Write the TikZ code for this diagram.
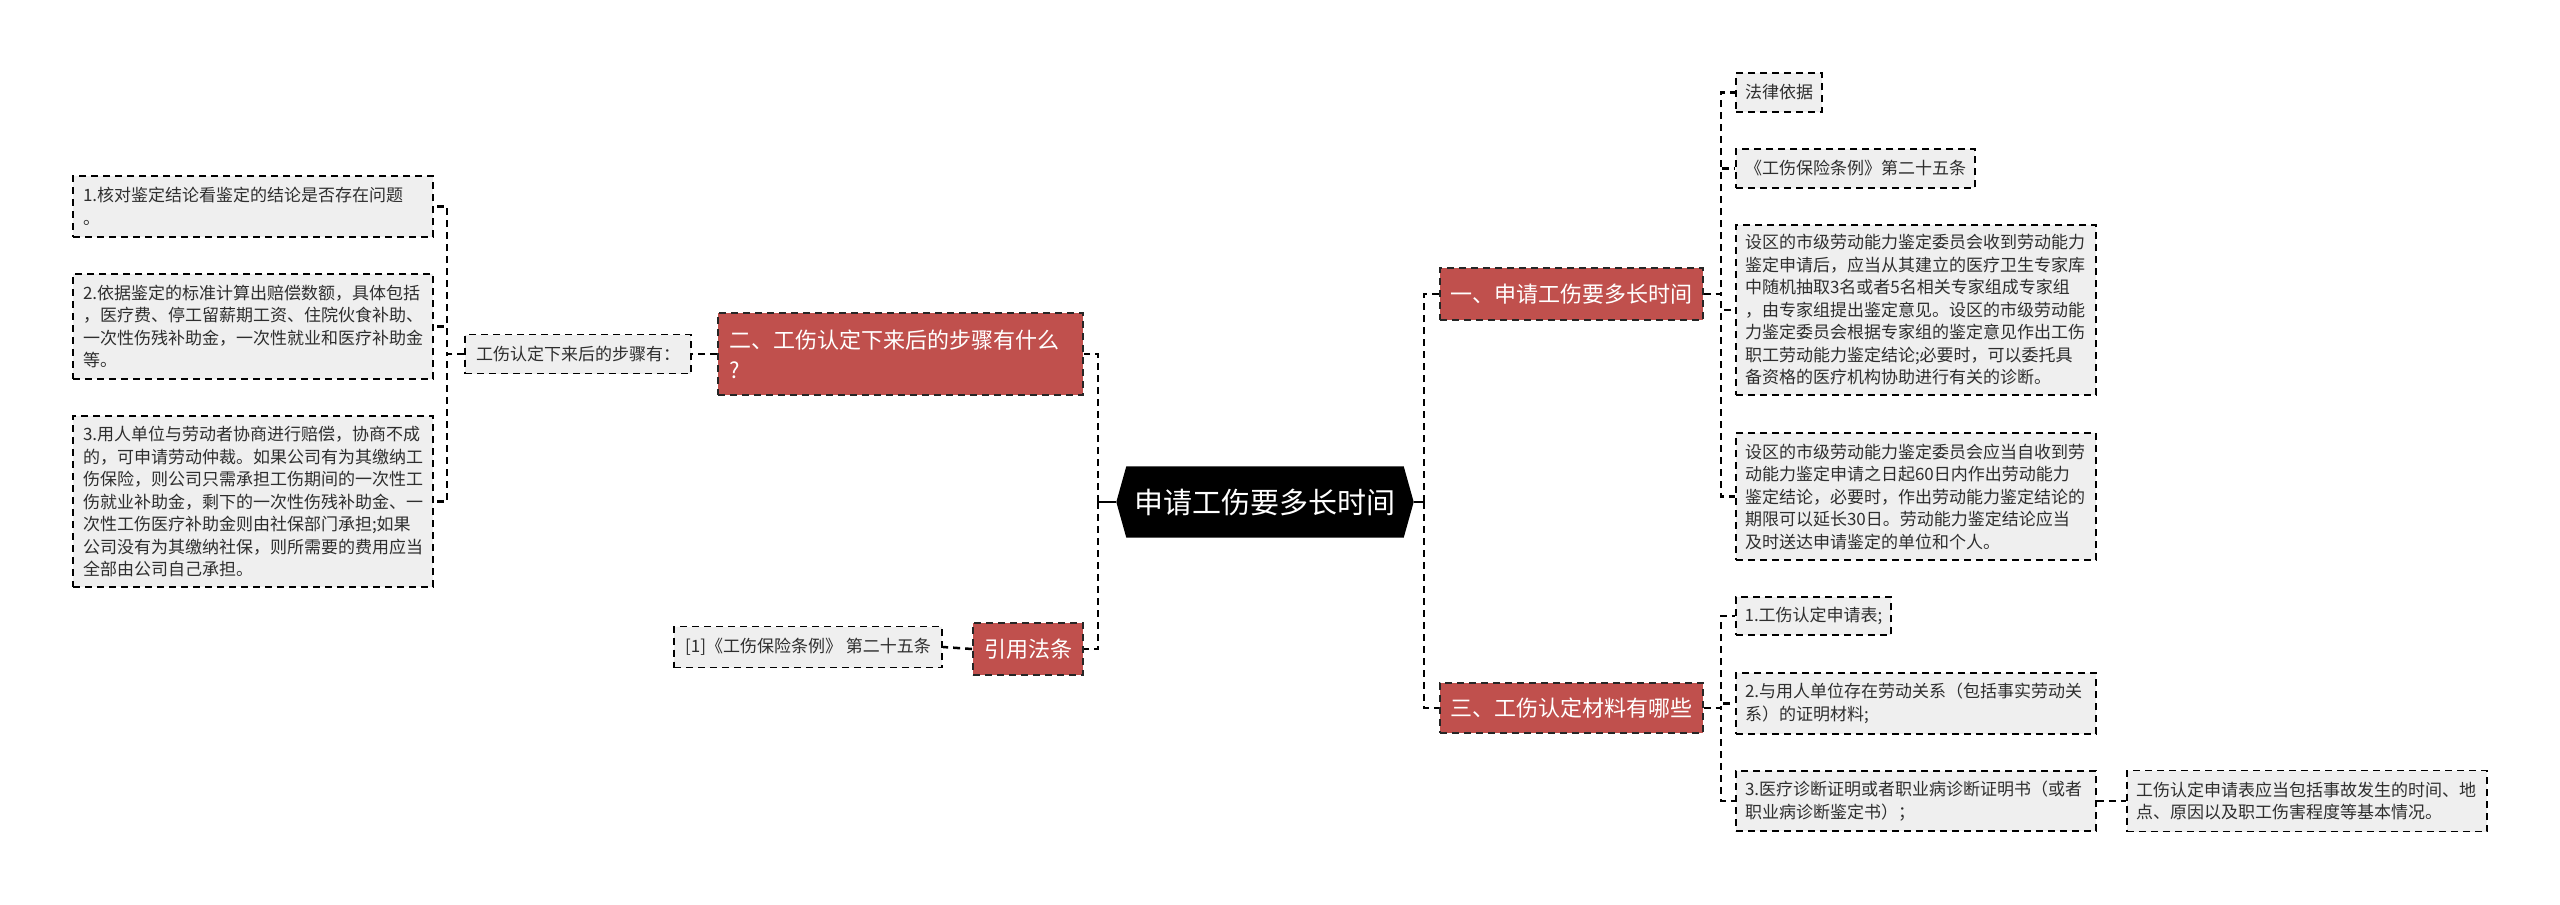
\documentclass[tikz,border=0pt]{standalone}
\usepackage{fontspec}
\newfontfamily\cjk{Noto Sans CJK SC}
\usetikzlibrary{calc}
\pgfdeclarelayer{background}
\pgfsetlayers{background,main}
\definecolor{redbox}{HTML}{C0504D}
\definecolor{graybox}{HTML}{EFEFEF}
\definecolor{txt}{HTML}{2E2E2E}
\begin{document}
\begin{tikzpicture}[x=1pt,y=-1pt,
  leaf/.style={draw=black, line width=1.8pt, dash pattern=on 7pt off 5pt, fill=graybox, text=txt,
    font=\cjk\fontsize{17}{22.5}\selectfont, align=left, inner sep=0pt},
  wide/.style={text width=342pt, minimum width=360pt},
  topic/.style={draw=black!85, line width=1.8pt, dash pattern=on 7pt off 5pt, fill=redbox, text=white,
    font=\cjk\fontsize{22}{30}\selectfont, align=left, inner sep=0pt},
  conn/.style={draw=black, line width=2.5pt, dash pattern=on 7pt off 5pt},
  stub/.style={draw=black, line width=2.5pt}
]
\useasboundingbox (0,0) rectangle (2560,905);

% root
\node[minimum width=297pt, minimum height=71pt, inner sep=0pt, text=white,
  font=\cjk\fontsize{29}{34}\selectfont] (root) at (1265,502) {申请工伤要多长时间};
\begin{pgfonlayer}{background}
\fill[black] (root.west) -- ($(root.north west)+(10,0)$) -- ($(root.north east)+(-10,0)$)
  -- (root.east) -- ($(root.south east)+(-10,0)$) -- ($(root.south west)+(10,0)$) -- cycle;
\end{pgfonlayer}

% topics
\node[topic, minimum width=263pt, minimum height=52pt] (T1) at (1571.5,294) {一、申请工伤要多长时间};
\node[topic, text width=343pt, minimum width=365pt, minimum height=82pt] (T2) at (900.5,354) {二、工伤认定下来后的步骤有什么\\?};
\node[topic, minimum width=263pt, minimum height=50pt] (T3) at (1571.5,708) {三、工伤认定材料有哪些};
\node[topic, minimum width=110pt, minimum height=52pt] (T4) at (1028,649) {引用法条};

% left leaves
\node[leaf, minimum width=226pt, minimum height=39pt] (S) at (578,354) {工伤认定下来后的步骤有：};
\node[leaf, wide, text width=340pt, minimum height=61pt] (L1) at (253,206.5) {1.核对鉴定结论看鉴定的结论是否存在问题\\。};
\node[leaf, wide, text width=340pt, minimum height=105pt] (L2) at (253,326.5) {2.依据鉴定的标准计算出赔偿数额，具体包括\\，医疗费、停工留薪期工资、住院伙食补助、\\一次性伤残补助金，一次性就业和医疗补助金\\等。};
\node[leaf, wide, text width=340pt, minimum height=171pt] (L3) at (253,501.5) {3.用人单位与劳动者协商进行赔偿，协商不成\\的，可申请劳动仲裁。如果公司有为其缴纳工\\伤保险，则公司只需承担工伤期间的一次性工\\伤就业补助金，剩下的一次性伤残补助金、一\\次性工伤医疗补助金则由社保部门承担;如果\\公司没有为其缴纳社保，则所需要的费用应当\\全部由公司自己承担。};
\node[leaf, minimum width=268pt, minimum height=41pt] (F1) at (808,647) {[1]《工伤保险条例》 第二十五条};

% right leaves
\node[leaf, minimum width=86pt, minimum height=39pt] (R1) at (1779,92.5) {法律依据};
\node[leaf, minimum width=239pt, minimum height=39pt] (R2) at (1855.5,168.5) {《工伤保险条例》第二十五条};
\node[leaf, wide, minimum height=170pt] (R3) at (1916,310) {设区的市级劳动能力鉴定委员会收到劳动能力\\鉴定申请后，应当从其建立的医疗卫生专家库\\中随机抽取3名或者5名相关专家组成专家组\\，由专家组提出鉴定意见。设区的市级劳动能\\力鉴定委员会根据专家组的鉴定意见作出工伤\\职工劳动能力鉴定结论;必要时，可以委托具\\备资格的医疗机构协助进行有关的诊断。};
\node[leaf, wide, minimum height=127pt] (R4) at (1916,496.5) {设区的市级劳动能力鉴定委员会应当自收到劳\\动能力鉴定申请之日起60日内作出劳动能力\\鉴定结论，必要时，作出劳动能力鉴定结论的\\期限可以延长30日。劳动能力鉴定结论应当\\及时送达申请鉴定的单位和个人。};
\node[leaf, minimum width=155pt, minimum height=38pt] (R5) at (1813.5,616) {1.工伤认定申请表;};
\node[leaf, wide, minimum height=61pt] (R6) at (1916,703.5) {2.与用人单位存在劳动关系（包括事实劳动关\\系）的证明材料;};
\node[leaf, wide, minimum height=60pt] (R7) at (1916,801) {3.医疗诊断证明或者职业病诊断证明书（或者\\职业病诊断鉴定书）；};
\node[leaf, wide, minimum height=61pt] (R8) at (2307,801) {工伤认定申请表应当包括事故发生的时间、地\\点、原因以及职工伤害程度等基本情况。};

% connectors
\coordinate (cl) at (1098,502);
\coordinate (cr) at (1424,502);
\draw[stub] (root.west) -- (cl);
\draw[stub] (root.east) -- (cr);
\draw[conn] (cl) |- (T2.east);
\draw[conn] (cl) |- (T4.east);
\draw[conn] (cr) |- (T1.west);
\draw[conn] (cr) |- (T3.west);

\draw[conn] (T2.west) -- (S.east);
\draw[conn] (S.west) -- ++(-17,0) |- (L1.east);
\draw[conn] (S.west) -- ++(-17,0) |- (L2.east);
\draw[conn] (S.west) -- ++(-17,0) |- (L3.east);
\draw[conn] (T4.west) -- (F1.east);

\draw[conn] (T1.east) -- ++(17,0) |- (R1.west);
\draw[conn] (T1.east) -- ++(17,0) |- (R2.west);
\draw[conn] (T1.east) -- ++(17,0) |- (R3.west);
\draw[conn] (T1.east) -- ++(17,0) |- (R4.west);
\draw[conn] (T3.east) -- ++(17,0) |- (R5.west);
\draw[conn] (T3.east) -- ++(17,0) |- (R6.west);
\draw[conn] (T3.east) -- ++(17,0) |- (R7.west);
\draw[conn] (R7.east) -- (R8.west);
\end{tikzpicture}
\end{document}
